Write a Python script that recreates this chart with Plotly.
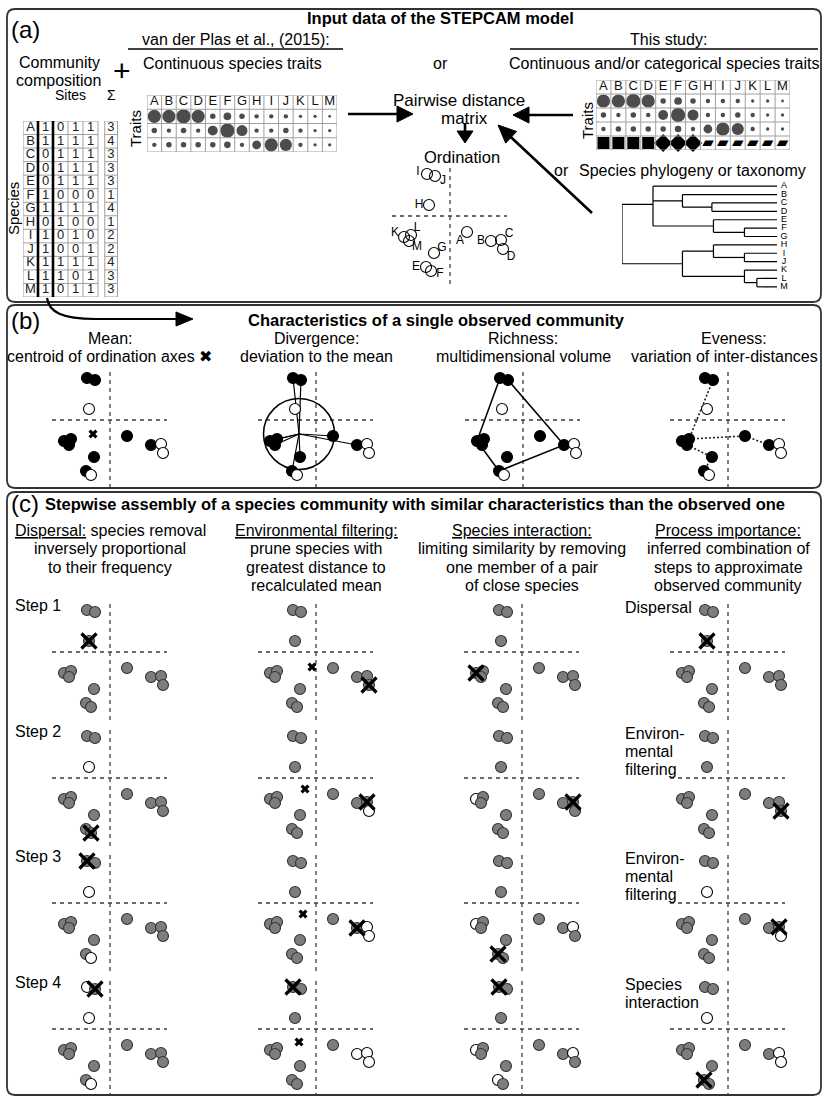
import math
import plotly.graph_objects as go

W, H = 824, 1097
FONT = "Liberation Sans, Arial, Helvetica, DejaVu Sans, sans-serif"

# ---------------- data ----------------
species = list("ABCDEFGHIJKLM")
# ordination scores (axis 1, axis 2) of the 13 species
ord_axis1 = [17, 41, 51, 53, -24, -19, -16, -21, -23, -15, -46, -39, -41]
ord_axis2 = [-16, -25, -24, -33, -51, -55, -37, 11, 42, 40, -21, -19, -25]

# community composition (4 sites)
site_1 = [1, 1, 0, 0, 0, 1, 1, 0, 1, 1, 1, 1, 1]
site_2 = [0, 1, 1, 1, 1, 0, 1, 1, 0, 0, 1, 1, 0]
site_3 = [1, 1, 1, 1, 1, 0, 1, 0, 1, 0, 1, 0, 1]
site_4 = [1, 1, 1, 1, 1, 0, 1, 0, 0, 1, 1, 1, 1]

# continuous traits (relative values) and categorical trait
trait_1 = [12, 12, 13, 12, 5, 7, 5, 4, 4, 4, 3, 3, 2.5]
trait_2 = [5, 4, 5, 4, 9, 13, 10, 4, 4, 5, 4, 3, 3]
trait_3 = [4, 5, 5, 5, 5, 6, 4, 8, 12, 11, 4, 3, 3]
trait_cat = ["square"] * 4 + ["diamond"] * 3 + ["parallelogram"] * 6

# phylogeny: children and relative node depth (root = 0, tips = 1)
tree_children = {
    "root": ["U", "Lw"], "U": ["A", "BCD", "EFG"], "BCD": ["B", "CD"], "CD": ["C", "D"],
    "EFG": ["E", "FG"], "FG": ["F", "G"], "Lw": ["HIJ", "KLM"], "HIJ": ["H", "IJ"],
    "IJ": ["I", "J"], "KLM": ["K", "LM"], "LM": ["L", "M"]}
tree_depth = {"root": 0.0, "U": 0.2, "BCD": 0.39, "CD": 0.58, "EFG": 0.59, "FG": 0.79,
              "Lw": 0.39, "HIJ": 0.59, "IJ": 0.79, "KLM": 0.79, "LM": 0.87}

# observed community: b = present (black), o = absent (open)
obs_state = "bboobobobbbbb"
obs_centroid = (-17, -14)
divergence_radius = 35.5
evenness_links = [("J", "L"), ("L", "A"), ("A", "B"), ("M", "G"), ("G", "E")]

# stepwise assembly: g = kept, x = removed at this step, o = removed before
dispersal_steps = ["gggggggxggggg", "gggggxgoggggg", "gggggogoxgggg", "gggggogooxggg"]
env_steps = ["gggxggggggggg", "ggxoggggggggg", "gxooggggggggg", "goooggggxgggg"]
env_centroids = [(-4, -15), (-11, -11), (-13, -11), (-17, -13)]
interaction_steps = ["ggggggggggxgg", "ggxgggggggogg", "ggogxgggggogg", "ggogogggxgogg"]
process_steps = ["gggggggxggggg", "gggxggggggggg", "ggxogggoggggg", "ggooxggoggggg"]

col_headers = [
    ["<u>Dispersal:</u> species removal", "inversely proportional", "to their frequency"],
    ["<u>Environmental filtering:</u>", "prune species with", "greatest distance to", "recalculated mean"],
    ["<u>Species interaction:</u>", "limiting similarity by removing", "one member of a pair", "of close species"],
    ["<u>Process importance:</u>", "inferred combination of", "steps to approximate", "observed community"],
]
process_labels = [["Dispersal"], ["Environ-", "mental", "filtering"],
                  ["Environ-", "mental", "filtering"], ["Species", "interaction"]]

# ---------------- helpers ----------------
fig = go.Figure()
shapes, annotations, axes = [], [], {}
counter = [1]


def add_axes(x0, x1, y0, y1, xr, yr):
    counter[0] += 1
    n = counter[0]
    axes[f"xaxis{n}"] = dict(domain=[max(0, x0 / W), min(1, x1 / W)], range=xr, visible=False,
                             fixedrange=True, anchor=f"y{n}")
    axes[f"yaxis{n}"] = dict(domain=[max(0, 1 - y1 / H), min(1, 1 - y0 / H)], range=yr, visible=False,
                             fixedrange=True, anchor=f"x{n}")
    return f"x{n}", f"y{n}"


def txt(x, y, s, size=16, bold=False, anchor="center", angle=0, family=FONT):
    annotations.append(dict(x=x, y=y, xref="x", yref="y", text=f"<b>{s}</b>" if bold else s,
                            showarrow=False, font=dict(family=family, size=size, color="black"),
                            xanchor=anchor, yanchor="middle", textangle=angle, borderpad=0))


def line(x0, y0, x1, y1, width=1.2, color="black"):
    shapes.append(dict(type="line", xref="x", yref="y", x0=x0, y0=y0, x1=x1, y1=y1,
                       line=dict(color=color, width=width)))


def arrow(x0, y0, x1, y1, head=16, half=8, width=2.6):
    ang = math.atan2(y1 - y0, x1 - x0)
    ca, sa = math.cos(ang), math.sin(ang)
    bx, by = x1 - head * ca, y1 - head * sa
    line(x0, y0, bx + 2 * ca, by + 2 * sa, width=width)
    p = f"M {x1},{y1} L {bx - half * sa},{by + half * ca} L {bx + half * sa},{by - half * ca} Z"
    shapes.append(dict(type="path", xref="x", yref="y", path=p, fillcolor="black",
                       line=dict(color="black", width=1)))


def rounded(x0, y0, x1, y1, r=8):
    p = (f"M {x0 + r},{y0} L {x1 - r},{y0} Q {x1},{y0} {x1},{y0 + r} L {x1},{y1 - r} "
         f"Q {x1},{y1} {x1 - r},{y1} L {x0 + r},{y1} Q {x0},{y1} {x0},{y1 - r} "
         f"L {x0},{y0 + r} Q {x0},{y0} {x0 + r},{y0} Z")
    shapes.append(dict(type="path", xref="x", yref="y", path=p, fillcolor="rgba(0,0,0,0)",
                       line=dict(color="#333333", width=1.8)))


def ordination_panel(cx, cy, right=60):
    bottom = min(cy + 70, H - 1)
    xa, ya = add_axes(cx - 60, cx + right, cy - 50, bottom, [-60, right], [-(bottom - cy), 50])
    dash = dict(color="#3c3c3c", width=1.3, dash="4px,4px")
    shapes.append(dict(type="line", xref=xa, yref=ya, x0=0, x1=0, y0=48, y1=-(bottom - cy),
                       line=dash, layer="below"))
    shapes.append(dict(type="line", xref=xa, yref=ya, x0=-58, x1=57, y0=0, y1=0,
                       line=dash, layer="below"))
    return xa, ya


FILL = {"g": "#7d7d7d", "x": "#7d7d7d", "o": "white", "b": "black"}
EDGE = {"g": "#333333", "x": "#333333", "o": "black", "b": "black"}


def draw_points(xa, ya, state):
    fig.add_trace(go.Scatter(
        x=ord_axis1, y=ord_axis2, xaxis=xa, yaxis=ya, mode="markers",
        marker=dict(size=11, color=[FILL[s] for s in state],
                    line=dict(color=[EDGE[s] for s in state], width=1.1)),
        cliponaxis=False, hoverinfo="skip"))
    crossed = [i for i, s in enumerate(state) if s == "x"]
    if crossed:
        fig.add_trace(go.Scatter(
            x=[ord_axis1[i] for i in crossed], y=[ord_axis2[i] for i in crossed],
            xaxis=xa, yaxis=ya, mode="markers",
            marker=dict(symbol="x-thin-open", size=15, color="black",
                        line=dict(color="black", width=3.2)),
            cliponaxis=False, hoverinfo="skip"))


def centroid_marker(xa, ya, c):
    fig.add_trace(go.Scatter(x=[c[0]], y=[c[1]], xaxis=xa, yaxis=ya, mode="markers",
                             marker=dict(symbol="x", size=8, color="black", line=dict(width=0)),
                             cliponaxis=False, hoverinfo="skip"))


def convex_hull(idx):
    pts = sorted(set((ord_axis1[i], ord_axis2[i]) for i in idx))

    def cross(o, a, b):
        return (a[0] - o[0]) * (b[1] - o[1]) - (a[1] - o[1]) * (b[0] - o[0])
    lower, upper = [], []
    for p in pts:
        while len(lower) >= 2 and cross(lower[-2], lower[-1], p) <= 0:
            lower.pop()
        lower.append(p)
    for p in reversed(pts):
        while len(upper) >= 2 and cross(upper[-2], upper[-1], p) <= 0:
            upper.pop()
        upper.append(p)
    return lower[:-1] + upper[:-1]


# base canvas (pixel coordinates)
fig.add_trace(go.Scatter(x=[0], y=[0], mode="markers", marker=dict(size=1, opacity=0),
                         hoverinfo="skip"))

# ---------------- frames ----------------
rounded(7, 9, 821, 302)
rounded(7, 305, 821, 488)
rounded(7, 492, 821, 1095)

# ---------------- panel (a) ----------------
txt(10, 29, "(a)", size=24, anchor="left")
txt(440, 18, "Input data of the STEPCAM model", size=16.5, bold=True)
txt(236, 39, "van der Plas et al., (2015):")
line(128, 49, 343, 49, width=1.3)
txt(232, 63, "Continuous species traits")
txt(59, 62, "Community")
txt(58, 80, "composition")
txt(122, 70, "+", size=30)
txt(440, 63, "or")
txt(668, 39, "This study:")
line(510, 49, 818, 49, width=1.3)
txt(664, 63, "Continuous and/or categorical species traits")
txt(459, 100, "Pairwise distance", size=17)
txt(464, 118, "matrix", size=17)
txt(462, 157, "Ordination", size=16.5)
txt(553, 170, "or", anchor="left")
txt(578, 170, "Species phylogeny or taxonomy", anchor="left")
txt(70, 95, "Sites", size=14)
txt(111, 95, "Σ", size=14)
txt(13, 209, "Species", size=15, angle=-90)
txt(135, 129, "Traits", size=15, angle=-90)
txt(587, 121, "Traits", size=15, angle=-90)

arrow(348, 114, 413, 114)
arrow(573, 115, 513, 115)
arrow(465, 123, 465, 143, head=12, half=8)
arrow(592, 213, 498, 125, head=18, half=8)

# community composition table
xc, yc = add_axes(23, 128, 121, 297, [-0.5, 6.5], [12.5, -0.5])
tfont = dict(family=FONT, size=13, color="#222222")
fig.add_trace(go.Scatter(x=[0] * 13, y=list(range(13)), text=species, mode="text", textfont=tfont,
                         xaxis=xc, yaxis=yc, hoverinfo="skip", cliponaxis=False))
for k, col in enumerate([site_1, site_2, site_3, site_4]):
    fig.add_trace(go.Scatter(x=[k + 1] * 13, y=list(range(13)), text=[str(v) for v in col],
                             mode="text", textfont=tfont, xaxis=xc, yaxis=yc, hoverinfo="skip",
                             cliponaxis=False))
sums = [a + b + c + d for a, b, c, d in zip(site_1, site_2, site_3, site_4)]
fig.add_trace(go.Scatter(x=[5.35] * 13, y=list(range(13)), text=[str(v) for v in sums],
                         mode="text", textfont=tfont, xaxis=xc, yaxis=yc, hoverinfo="skip",
                         cliponaxis=False))
grid = dict(color="#a0a0a0", width=1)
for i in range(6):
    shapes.append(dict(type="line", xref=xc, yref=yc, x0=i - 0.5, x1=i - 0.5, y0=-0.5, y1=12.5, line=grid))
for j in range(14):
    shapes.append(dict(type="line", xref=xc, yref=yc, x0=-0.5, x1=4.5, y0=j - 0.5, y1=j - 0.5, line=grid))
    shapes.append(dict(type="line", xref=xc, yref=yc, x0=4.95, x1=5.8, y0=j - 0.5, y1=j - 0.5, line=grid))
for xv in (4.95, 5.8):
    shapes.append(dict(type="line", xref=xc, yref=yc, x0=xv, x1=xv, y0=-0.5, y1=12.5, line=grid))
shapes.append(dict(type="rect", xref=xc, yref=yc, x0=0.5, x1=1.5, y0=-1.75, y1=12.6,
                   line=dict(color="black", width=2.6)))

# curved arrow to panel (b)
shapes.append(dict(type="path", xref="x", yref="y",
                   path="M 47,298 C 49,312 62,319 95,319 L 178,319",
                   line=dict(color="black", width=2.2)))
shapes.append(dict(type="path", xref="x", yref="y", path="M 193,319 L 176,312 L 176,326 Z",
                   fillcolor="black", line=dict(color="black", width=1)))

SIZE_SCALE = 1.1


def trait_table(x0, x1, y0, y1, nrows, with_cat):
    xa, ya = add_axes(x0, x1, y0, y1, [-0.5, 12.5], [nrows - 0.5, -0.5])
    for i in range(14):
        shapes.append(dict(type="line", xref=xa, yref=ya, x0=i - 0.5, x1=i - 0.5, y0=-0.5,
                           y1=nrows - 0.5, line=grid))
    for j in range(nrows + 1):
        shapes.append(dict(type="line", xref=xa, yref=ya, x0=-0.5, x1=12.5, y0=j - 0.5,
                           y1=j - 0.5, line=grid))
    fig.add_trace(go.Scatter(x=list(range(13)), y=[0] * 13, text=species, mode="text",
                             textfont=dict(family=FONT, size=13, color="#111111"),
                             xaxis=xa, yaxis=ya, hoverinfo="skip", cliponaxis=False))
    for r, tr in enumerate([trait_1, trait_2, trait_3]):
        fig.add_trace(go.Scatter(x=list(range(13)), y=[r + 1] * 13, mode="markers",
                                 marker=dict(size=[v * SIZE_SCALE for v in tr], color="black",
                                             line=dict(width=0)),
                                 xaxis=xa, yaxis=ya, hoverinfo="skip", cliponaxis=False))
    if with_cat:
        for cat, sym, sz in (("square", "square", 12), ("diamond", "diamond", 14)):
            idx = [i for i, c in enumerate(trait_cat) if c == cat]
            fig.add_trace(go.Scatter(x=idx, y=[4] * len(idx), mode="markers",
                                     marker=dict(symbol=sym, size=sz, color="black", line=dict(width=0)),
                                     xaxis=xa, yaxis=ya, hoverinfo="skip", cliponaxis=False))
        idx = [i for i, c in enumerate(trait_cat) if c == "parallelogram"]
        fig.add_trace(go.Scatter(x=idx, y=[4] * len(idx), mode="text", text=["▰"] * len(idx),
                                 textfont=dict(family="DejaVu Sans", size=15, color="black"),
                                 xaxis=xa, yaxis=ya, hoverinfo="skip", cliponaxis=False))


trait_table(147, 337, 95, 152, 4, False)
trait_table(596, 790, 80, 150, 5, True)

# phylogeny (axis extended to the right so the tip labels stay inside the range)
xt, yt = add_axes(622, 622 + 155 * 1.12, 182, 291, [0, 1.12], [12.5, -0.5])


def node_y(n):
    if n in species:
        return species.index(n)
    return sum(node_y(c) for c in tree_children[n]) / len(tree_children[n])


def node_x(n):
    return 1.0 if n in species else tree_depth[n]


tx, ty = [], []
for n, ch in tree_children.items():
    ys = [node_y(c) for c in ch]
    tx += [tree_depth[n], tree_depth[n], None]
    ty += [min(ys), max(ys), None]
    for c in ch:
        tx += [tree_depth[n], node_x(c), None]
        ty += [node_y(c), node_y(c), None]
fig.add_trace(go.Scatter(x=tx, y=ty, mode="lines", line=dict(color="black", width=1.2),
                         xaxis=xt, yaxis=yt, hoverinfo="skip", cliponaxis=False))
fig.add_trace(go.Scatter(x=[1.045] * 13, y=list(range(13)), text=species, mode="text",
                         textfont=dict(family=FONT, size=9, color="black"),
                         xaxis=xt, yaxis=yt, hoverinfo="skip", cliponaxis=False))

# ordination of panel (a), labels placed next to their circle
label_offset = {"A": (-7, -9), "B": (-10, 0), "C": (8, 6), "D": (8, -8), "E": (-10, 0),
                "F": (9, -3), "G": (8, 5), "H": (-10, 0), "I": (-9, 2), "J": (8, -5),
                "K": (-9, 4), "L": (6, 7), "M": (8, -6)}
xa, ya = ordination_panel(450, 216, right=72)
fig.add_trace(go.Scatter(x=ord_axis1, y=ord_axis2, mode="markers",
                         marker=dict(size=11, color="rgba(255,255,255,0)", line=dict(color="black", width=1.1)),
                         xaxis=xa, yaxis=ya, hoverinfo="skip", cliponaxis=False))
fig.add_trace(go.Scatter(x=[ord_axis1[i] + label_offset[s][0] for i, s in enumerate(species)],
                         y=[ord_axis2[i] + label_offset[s][1] for i, s in enumerate(species)],
                         text=species, mode="text", textfont=dict(family=FONT, size=12, color="black"),
                         xaxis=xa, yaxis=ya, hoverinfo="skip", cliponaxis=False))

# ---------------- panel (b) ----------------
txt(10, 320, "(b)", size=24, anchor="left")
txt(436, 320, "Characteristics of a single observed community", size=16.5, bold=True)
b_x = [110, 316, 523, 728]
b_titles = [("Mean:", "centroid of ordination axes ✖"), ("Divergence:", "deviation to the mean"),
            ("Richness:", "multidimensional volume"), ("Eveness:", "variation of inter-distances")]
for cx, (t1, t2) in zip(b_x, b_titles):
    shift = -4 if t1 == "Eveness:" else 0
    txt(cx + shift + (10 if t1 == "Eveness:" else 0), 338, t1)
    txt(cx + shift, 356, t2)

black = [i for i, s in enumerate(obs_state) if s == "b"]
pb = [ordination_panel(cx, 420) for cx in b_x]

xa, ya = pb[0]
draw_points(xa, ya, obs_state)
centroid_marker(xa, ya, obs_centroid)

xa, ya = pb[1]
lx, ly = [], []
for i in black:
    lx += [obs_centroid[0], ord_axis1[i], None]
    ly += [obs_centroid[1], ord_axis2[i], None]
fig.add_trace(go.Scatter(x=lx, y=ly, mode="lines", line=dict(color="black", width=1.2),
                         xaxis=xa, yaxis=ya, hoverinfo="skip", cliponaxis=False))
shapes.append(dict(type="circle", xref=xa, yref=ya,
                   x0=obs_centroid[0] - divergence_radius, x1=obs_centroid[0] + divergence_radius,
                   y0=obs_centroid[1] - divergence_radius, y1=obs_centroid[1] + divergence_radius,
                   line=dict(color="black", width=1.5)))
draw_points(xa, ya, obs_state)

xa, ya = pb[2]
hull = convex_hull(black)
hull.append(hull[0])
fig.add_trace(go.Scatter(x=[p[0] for p in hull], y=[p[1] for p in hull], mode="lines",
                         line=dict(color="black", width=1.5), xaxis=xa, yaxis=ya,
                         hoverinfo="skip", cliponaxis=False))
draw_points(xa, ya, obs_state)

xa, ya = pb[3]
ex, ey = [], []
for a, b in evenness_links:
    ia, ib = species.index(a), species.index(b)
    ex += [ord_axis1[ia], ord_axis1[ib], None]
    ey += [ord_axis2[ia], ord_axis2[ib], None]
fig.add_trace(go.Scatter(x=ex, y=ey, mode="lines", line=dict(color="#222222", width=1.6, dash="2px,2px"),
                         xaxis=xa, yaxis=ya, hoverinfo="skip", cliponaxis=False))
draw_points(xa, ya, obs_state)

# ---------------- panel (c) ----------------
txt(10, 503, "(c)", size=24, anchor="left")
txt(44, 504, "Stepwise assembly of a species community with similar characteristics than the observed one",
    size=16.5, bold=True, anchor="left")
c_x = [110, 316, 522, 728]
c_y = [652, 778, 903, 1029]
for cx, lines_ in zip(c_x, col_headers):
    for k, s in enumerate(lines_):
        txt(cx, 530 + 18.5 * k, s)
for r, cy in enumerate(c_y):
    txt(14, cy - 47, f"Step {r + 1}", anchor="left")
    labs = process_labels[r]
    for k, s in enumerate(labs):
        txt(624, cy - 45 + 18 * k, s, anchor="left")

for ci, steps in enumerate([dispersal_steps, env_steps, interaction_steps, process_steps]):
    for ri, st in enumerate(steps):
        xa, ya = ordination_panel(c_x[ci], c_y[ri])
        draw_points(xa, ya, st)
        if ci == 1:
            centroid_marker(xa, ya, env_centroids[ri])

fig.update_layout(
    width=W, height=H, margin=dict(l=0, r=0, t=0, b=0),
    paper_bgcolor="white", plot_bgcolor="rgba(0,0,0,0)", showlegend=False,
    xaxis=dict(domain=[0, 1], range=[0, W], visible=False, fixedrange=True),
    yaxis=dict(domain=[0, 1], range=[H, 0], visible=False, fixedrange=True),
    shapes=shapes, annotations=annotations, font=dict(family=FONT), **axes)

fig.write_html("out.html", config={"displayModeBar": False})
